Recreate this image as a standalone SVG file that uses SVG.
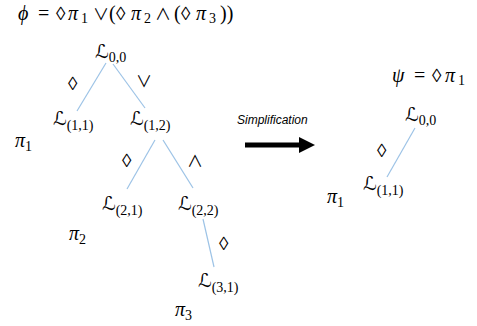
<svg xmlns="http://www.w3.org/2000/svg" width="477" height="326" viewBox="0 0 477 326">
<style>
.m{font-family:"Liberation Serif","DejaVu Serif",serif;font-size:20px;fill:#000}
.i{font-style:italic}
.s{font-size:14px;font-style:normal}
.o{font-family:"DejaVu Sans",sans-serif;font-weight:200;font-size:19px;font-style:normal}
.w{font-family:"Noto Sans CJK SC","DejaVu Sans",sans-serif;font-weight:400;font-size:16px;font-style:normal}
.L{font-family:"DejaVu Sans",sans-serif;font-style:normal;font-size:19px}
.e{stroke:#9DC3E6;stroke-width:1.2;fill:none}
.lbl{font-family:"Liberation Sans","DejaVu Sans",sans-serif;font-size:12px;font-style:italic;fill:#000}
</style>
<rect width="477" height="326" fill="#fff"/>
<g id="formula-phi"><text class="m" y="20"><tspan class="i" x="18">ϕ</tspan><tspan x="38">=</tspan><tspan class="o" x="56">◊</tspan><tspan class="i" x="68">π</tspan><tspan class="s" x="81" dy="3">1</tspan><tspan class="w" x="93" dy="-3">∨</tspan><tspan x="109">(</tspan><tspan class="o" x="116">◊</tspan><tspan class="i" x="131">π</tspan><tspan class="s" x="144" dy="3">2</tspan><tspan class="w" x="155" dy="-3">∧</tspan><tspan x="174">(</tspan><tspan class="o" x="181">◊</tspan><tspan class="i" x="196">π</tspan><tspan class="s" x="209" dy="3">3</tspan><tspan x="220" dy="-3">))</tspan></text></g>
<g id="connectors">
<line class="e" x1="106" y1="63" x2="77" y2="111"/>
<line class="e" x1="113" y1="64" x2="145" y2="108"/>
<line class="e" x1="155" y1="140" x2="127" y2="189"/>
<line class="e" x1="163" y1="140" x2="193" y2="188"/>
<line class="e" x1="203" y1="219" x2="214" y2="267"/>
<line class="e" x1="415" y1="128" x2="387" y2="177"/>
<path d="M245,145 H300" stroke="#000" stroke-width="5"/>
<polygon points="299,137 315,145 299,153" fill="#000"/>
</g>
<g id="edge-labels">
<text class="m o" x="68" y="90">◊</text>
<text class="m w" x="136" y="87">∨</text>
<text class="m o" x="122" y="167">◊</text>
<text class="m w" x="187" y="167">∧</text>
<text class="m o" x="219" y="250">◊</text>
<text class="m o" x="377" y="157">◊</text>
<text class="lbl" x="237" y="124">Simplification</text>
</g>
<g id="L00"><text class="m" x="95" y="58"><tspan class="L">ℒ</tspan><tspan class="s" dy="4">0,0</tspan></text></g>
<g id="L11"><text class="m" x="53" y="125"><tspan class="L">ℒ</tspan><tspan class="s" dy="5">(1,1)</tspan></text></g>
<g id="pi1"><text class="m i" x="15" y="147">π<tspan class="s" dy="4">1</tspan></text></g>
<g id="L12"><text class="m" x="130" y="125"><tspan class="L">ℒ</tspan><tspan class="s" dy="5">(1,2)</tspan></text></g>
<g id="L21"><text class="m" x="102" y="210"><tspan class="L">ℒ</tspan><tspan class="s" dy="5">(2,1)</tspan></text></g>
<g id="pi2"><text class="m i" x="69" y="240">π<tspan class="s" dy="4">2</tspan></text></g>
<g id="L22"><text class="m" x="178" y="210"><tspan class="L">ℒ</tspan><tspan class="s" dy="5">(2,2)</tspan></text></g>
<g id="L31"><text class="m" x="198" y="287"><tspan class="L">ℒ</tspan><tspan class="s" dy="5">(3,1)</tspan></text></g>
<g id="pi3"><text class="m i" x="175" y="316">π<tspan class="s" dy="4">3</tspan></text></g>
<g id="formula-psi"><text class="m" y="82"><tspan class="i" x="392">ψ</tspan><tspan x="414">=</tspan><tspan class="o" x="432">◊</tspan><tspan class="i" x="445">π</tspan><tspan class="s" x="458" dy="3">1</tspan></text></g>
<g id="R-L00"><text class="m" x="405" y="121"><tspan class="L">ℒ</tspan><tspan class="s" dy="4">0,0</tspan></text></g>
<g id="R-L11"><text class="m" x="363" y="190"><tspan class="L">ℒ</tspan><tspan class="s" dy="5">(1,1)</tspan></text></g>
<g id="R-pi1"><text class="m i" x="327" y="203">π<tspan class="s" dy="4">1</tspan></text></g>
</svg>
